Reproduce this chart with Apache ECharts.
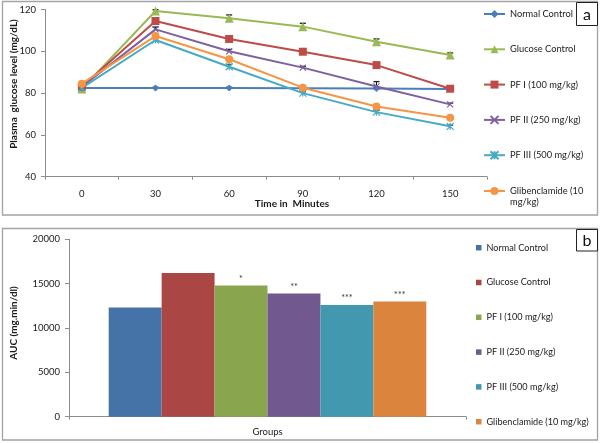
<!DOCTYPE html>
<html>
<head>
<meta charset="utf-8">
<script src="https://cdn.jsdelivr.net/npm/echarts@6/dist/echarts.min.js"></script>
<style>html,body{margin:0;padding:0;background:#fff}#c{width:600px;height:443px}</style>
</head>
<body>
<div id="c"></div>
<script>
// ---- Panel a data ----
const timePoints = ['0', '30', '60', '90', '120', '150'];
const seriesNames = ['Normal Control', 'Glucose Control', 'PF I (100 mg/kg)', 'PF II (250 mg/kg)', 'PF III (500 mg/kg)', 'Glibenclamide (10 mg/kg)'];
const normalControl = [82.4, 82.4, 82.4, 82.3, 82.2, 82.0];
const glucoseControl = [82.0, 119.3, 115.8, 111.8, 104.6, 98.2];
const pf1 = [83.0, 114.5, 105.9, 99.8, 93.4, 82.1];
const pf2 = [83.0, 110.5, 100.0, 92.2, 83.2, 74.6];
const pf3 = [82.5, 105.4, 92.6, 80.0, 70.9, 64.1];
const glib = [84.5, 107.3, 96.2, 82.6, 73.6, 68.2];
// upper error values (SEM)
const errNormal = [0.4, 0.4, 0.4, 0.4, 0.4, 0.4];
const errGlucose = [0.5, 0.6, 1.6, 1.6, 1.3, 1.0];
const errPf1 = [0.5, 0.8, 0.8, 0.8, 0.8, 0.8];
const errPf2 = [0.5, 1.1, 0.9, 0.6, 2.3, 0.6];
const errPf3 = [0.5, 0.6, 1.1, 0.6, 0.8, 0.6];
const errGlib = [0.5, 0.6, 0.6, 0.6, 0.6, 0.6];
const yTicksA = {min: 40, max: 120, interval: 20};

// ---- Panel b data ----
const groupCategory = ['Groups'];
const aucValues = [12300, 16200, 14800, 13900, 12600, 13000];
const aucStars = ['', '', '*', '**', '***', '***'];
const yTicksB = {min: 0, max: 20000, interval: 5000};

const lineColors = ['#4A7EBB', '#98B954', '#BE4B48', '#7D60A0', '#46AAC5', '#F69544'];
const barColors = ['#4572A7', '#AA4643', '#89A54E', '#71588F', '#4198AF', '#DB843D'];
const symbols = ['diamond', 'triangle', 'rect', 'path://M0,0L10,10M10,0L0,10',
  'path://M5,0L5,10M0,0L10,10M10,0L0,10', 'circle'];
const symbolSizes = [7, 9, 8, 6, 7, 8];

const lineData = [normalControl, glucoseControl, pf1, pf2, pf3, glib];
const errData = [errNormal, errGlucose, errPf1, errPf2, errPf3, errGlib];

const FONT = 'Lato';
const TXT = '#1a1a1a';
const AX = '#8c8c8c';

const chart = echarts.init(document.getElementById('c'), null, {renderer: 'canvas'});

const series = [];
// error bars (drawn under lines)
lineData.forEach((vals, si) => {
  series.push({
    type: 'custom', xAxisIndex: 0, yAxisIndex: 0, z: 1, silent: true,
    data: vals.map((v, i) => [i, v, errData[si][i]]),
    renderItem: function (params, api) {
      const x = api.value(0), y = api.value(1), e = api.value(2);
      const p0 = api.coord([x, y]);
      const p1 = api.coord([x, y + e]);
      return {type: 'group', children: [
        {type: 'line', shape: {x1: p0[0], y1: p0[1], x2: p1[0], y2: p1[1]}, style: {stroke: '#1a1a1a', lineWidth: 1}},
        {type: 'line', shape: {x1: p1[0] - 3, y1: p1[1], x2: p1[0] + 3, y2: p1[1]}, style: {stroke: '#1a1a1a', lineWidth: 1.3}}
      ]};
    }
  });
});
lineData.forEach((vals, si) => {
  series.push({
    name: seriesNames[si], type: 'line', xAxisIndex: 0, yAxisIndex: 0, z: 3,
    data: vals, symbol: symbols[si], symbolSize: symbolSizes[si], showAllSymbol: true,
    lineStyle: {color: lineColors[si], width: 2},
    itemStyle: {color: lineColors[si], borderColor: lineColors[si], borderWidth: (si === 3 || si === 4) ? 1.2 : 0},
    emphasis: {disabled: true}, animation: false
  });
});
aucValues.forEach((v, si) => {
  series.push({
    name: seriesNames[si] + ' ', type: 'bar', xAxisIndex: 1, yAxisIndex: 1,
    data: [v], barGap: '0%', barCategoryGap: '20%',
    itemStyle: {color: barColors[si]},
    label: {show: aucStars[si] !== '', position: 'top', distance: 2, formatter: aucStars[si],
      fontFamily: FONT, fontSize: 9, color: '#333'},
    emphasis: {disabled: true}, animation: false
  });
});

const plain = v => String(v);

const option = {
  animation: false,
  backgroundColor: '#fff',
  grid: [
    {left: 45, top: 9.5, width: 442, height: 167.2},
    {left: 69, top: 239.3, width: 397, height: 177.4}
  ],
  xAxis: [
    {type: 'category', gridIndex: 0, data: timePoints, boundaryGap: true,
      axisLine: {lineStyle: {color: AX, width: 1}},
      axisTick: {show: true, length: 3, lineStyle: {color: AX}},
      axisLabel: {margin: 12, fontFamily: FONT, fontSize: 9.5, color: TXT}},
    {type: 'category', gridIndex: 1, data: groupCategory, boundaryGap: true,
      axisLine: {lineStyle: {color: AX, width: 1}},
      axisTick: {show: true, length: 3, lineStyle: {color: AX}},
      axisLabel: {margin: 10, fontFamily: FONT, fontSize: 9.5, color: TXT}}
  ],
  yAxis: [
    {type: 'value', gridIndex: 0, min: yTicksA.min, max: yTicksA.max, interval: yTicksA.interval,
      splitLine: {show: false},
      axisLine: {show: true, lineStyle: {color: AX, width: 1}},
      axisTick: {show: true, length: 4, lineStyle: {color: AX}},
      axisLabel: {margin: 9, fontFamily: FONT, fontSize: 9.5, color: TXT, formatter: plain}},
    {type: 'value', gridIndex: 1, min: yTicksB.min, max: yTicksB.max, interval: yTicksB.interval,
      splitLine: {show: false},
      axisLine: {show: true, lineStyle: {color: AX, width: 1}},
      axisTick: {show: true, length: 4, lineStyle: {color: AX}},
      axisLabel: {margin: 9, fontFamily: FONT, fontSize: 9.5, color: TXT, formatter: plain}}
  ],
  legend: [
    {orient: 'vertical', left: 483, top: 8, padding: 0, itemWidth: 21, itemHeight: 10, itemGap: 23.3,
      selectedMode: false, data: seriesNames.slice(0, 5),
      textStyle: {fontFamily: FONT, fontSize: 9.3, color: TXT, lineHeight: 12}},
    {orient: 'vertical', left: 483, top: 174.5, padding: 0, itemWidth: 21, itemHeight: 10,
      selectedMode: false, data: seriesNames.slice(5),
      formatter: function () { return '\nGlibenclamide (10\nmg/kg)'; },
      textStyle: {fontFamily: FONT, fontSize: 9.3, color: TXT, lineHeight: 11}},
    {orient: 'vertical', left: 476, top: 241.7, padding: 0, itemWidth: 5.5, itemHeight: 5.5, itemGap: 22.8,
      selectedMode: false, icon: 'rect',
      data: seriesNames.map(n => n + ' '),
      textStyle: {fontFamily: FONT, fontSize: 9.1, color: TXT, lineHeight: 12}}
  ],
  graphic: [
    {type: 'rect', shape: {x: 2.5, y: 1.5, width: 595, height: 213.5}, style: {fill: 'none', stroke: '#a3a3a3', lineWidth: 1.3}, z: -1},
    {type: 'rect', shape: {x: 2.5, y: 228.5, width: 595, height: 211.5}, style: {fill: 'none', stroke: '#a3a3a3', lineWidth: 1.3}, z: -1},
    {type: 'rect', shape: {x: 576.5, y: 2.5, width: 21, height: 23}, style: {fill: '#fff', stroke: '#222', lineWidth: 1}, z: 10},
    {type: 'text', x: 587, y: 14.5, z: 11, style: {text: 'a', fontFamily: FONT, fontSize: 16, fill: '#111', align: 'center', verticalAlign: 'middle'}},
    {type: 'rect', shape: {x: 576.5, y: 229.5, width: 21, height: 21.5}, style: {fill: '#fff', stroke: '#222', lineWidth: 1}, z: 10},
    {type: 'text', x: 587, y: 240.5, z: 11, style: {text: 'b', fontFamily: FONT, fontSize: 16, fill: '#111', align: 'center', verticalAlign: 'middle'}},
    {type: 'text', x: 292, y: 204, style: {text: 'Time in  Minutes', fontFamily: FONT, fontSize: 10, fontWeight: 'bold', fill: TXT, align: 'center', verticalAlign: 'middle'}},
    {type: 'text', x: 14, y: 84, rotation: Math.PI / 2, style: {text: 'Plasma  glucose level (mg/dL)', fontFamily: FONT, fontSize: 10, fontWeight: 'bold', fill: TXT, align: 'center', verticalAlign: 'middle'}},
    {type: 'text', x: 14, y: 323, rotation: Math.PI / 2, style: {text: 'AUC (mg.min/dl)', fontFamily: FONT, fontSize: 10, fontWeight: 'bold', fill: TXT, align: 'center', verticalAlign: 'middle'}}
  ],
  series: series
};
chart.setOption(option);
</script>
</body>
</html>
